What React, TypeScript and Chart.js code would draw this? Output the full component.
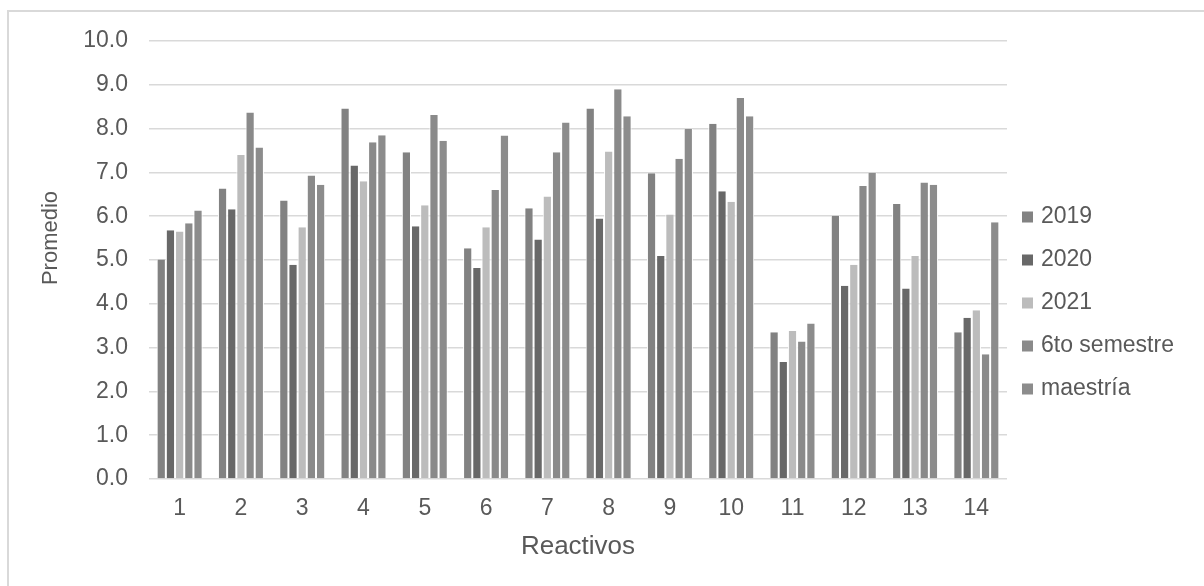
import React, { useEffect, useRef } from "react";
import { Chart, registerables } from "chart.js";

Chart.register(...registerables);

const categories = ["1", "2", "3", "4", "5", "6", "7", "8", "9", "10", "11", "12", "13", "14"];
const seriesNames = ["2019", "2020", "2021", "6to semestre", "maestría"];
const values2019 = [5.01, 6.63, 6.36, 8.46, 7.46, 5.27, 6.18, 8.46, 6.98, 8.11, 3.35, 6.01, 6.28, 3.35];
const values2020 = [5.68, 6.16, 4.89, 7.16, 5.77, 4.82, 5.47, 5.95, 5.09, 6.57, 2.67, 4.41, 4.35, 3.68];
const values2021 = [5.65, 7.4, 5.75, 6.8, 6.25, 5.75, 6.45, 7.48, 6.04, 6.33, 3.38, 4.89, 5.09, 3.85];
const values6to = [5.84, 8.37, 6.93, 7.69, 8.31, 6.6, 7.46, 8.9, 7.31, 8.7, 3.14, 6.69, 6.77, 2.85];
const valuesMaestria = [6.13, 7.57, 6.72, 7.85, 7.72, 7.84, 8.14, 8.28, 7.99, 8.28, 3.55, 6.99, 6.72, 5.86];
const seriesColors = ["#828282", "#686868", "#bcbcbc", "#8a8a8a", "#8c8c8c"];
const yMin = 0;
const yMax = 10;
const yStep = 1;
const xTitle = "Reactivos";
const yTitle = "Promedio";

const FONT = "'Liberation Sans', Arial, sans-serif";
const TEXT = "#595959";
const GRID = "#d9d9d9";

const sideLegend = {
  id: "sideLegend",
  afterDraw(chart: any) {
    const { ctx, chartArea } = chart;
    ctx.save();
    ctx.font = `23px ${FONT}`;
    ctx.textBaseline = "middle";
    ctx.textAlign = "left";
    chart.data.datasets.forEach((ds: any, i: number) => {
      const cy = chartArea.top + 176 + i * 43;
      ctx.fillStyle = ds.backgroundColor;
      ctx.fillRect(chartArea.right + 15, cy - 5.5, 11, 11);
      ctx.fillStyle = TEXT;
      ctx.fillText(ds.label, chartArea.right + 34, cy);
    });
    ctx.restore();
  },
};

const yAxisTitle = {
  id: "yAxisTitle",
  afterDraw(chart: any) {
    const { ctx, chartArea } = chart;
    const cy = (chartArea.top + chartArea.bottom) / 2 - 22;
    ctx.save();
    ctx.translate(51, cy);
    ctx.rotate(-Math.PI / 2);
    ctx.font = `22px ${FONT}`;
    ctx.fillStyle = TEXT;
    ctx.textAlign = "center";
    ctx.textBaseline = "middle";
    ctx.fillText(yTitle, 0, 0);
    ctx.restore();
  },
};

export default function App() {
  const canvasRef = useRef<HTMLCanvasElement | null>(null);

  useEffect(() => {
    if (!canvasRef.current) return;
    const allValues = [values2019, values2020, values2021, values6to, valuesMaestria];
    const chart = new Chart(canvasRef.current, {
      type: "bar",
      data: {
        labels: categories,
        datasets: seriesNames.map((name, i) => ({
          label: name,
          data: allValues[i],
          backgroundColor: seriesColors[i],
          borderColor: "#ffffff",
          borderWidth: { top: 0, bottom: 0, left: 1, right: 1 },
          borderSkipped: false,
          barPercentage: 1,
          categoryPercentage: 0.75,
        })),
      },
      options: {
        responsive: false,
        animation: false,
        devicePixelRatio: 1,
        layout: { padding: { top: 41, right: 197, bottom: 0, left: 0 } },
        plugins: {
          legend: { display: false },
          tooltip: { enabled: false },
        },
        scales: {
          x: {
            grid: { display: false, drawTicks: false },
            border: { display: false },
            ticks: { color: TEXT, font: { family: FONT, size: 23 }, padding: 16, maxRotation: 0, autoSkip: false },
            title: {
              display: true,
              text: xTitle,
              color: TEXT,
              font: { family: FONT, size: 26 },
              padding: { top: 0, bottom: 24 },
            },
            afterFit: (scale: any) => {
              scale.height = 107;
            },
          },
          y: {
            min: yMin,
            max: yMax,
            grid: { color: GRID, lineWidth: 1.6, drawTicks: false },
            border: { display: false },
            ticks: {
              stepSize: yStep,
              color: TEXT,
              font: { family: FONT, size: 23 },
              padding: 21,
              callback: (v: any) => Number(v).toFixed(1),
            },
            title: { display: false },
            afterFit: (scale: any) => {
              scale.width = 149;
            },
          },
        },
      },
      plugins: [sideLegend, yAxisTitle],
    });
    return () => chart.destroy();
  }, []);

  return (
    <div style={{ position: "fixed", left: 0, top: 0, width: 1204, height: 586, overflow: "hidden", background: "#ffffff" }}>
      <div
        style={{
          position: "absolute",
          left: 7,
          top: 10,
          width: 1300,
          height: 700,
          border: "2px solid #d9d9d9",
        }}
      />
      <canvas ref={canvasRef} width={1204} height={586} style={{ position: "absolute", left: 0, top: 0, display: "block" }} />
    </div>
  );
}
